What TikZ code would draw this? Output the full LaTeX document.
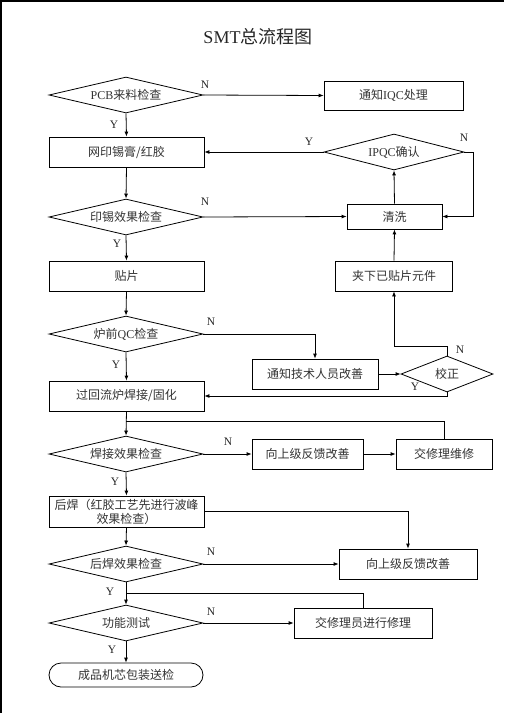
\documentclass[tikz,border=0pt]{standalone}
\usepackage{fontspec}
\setmainfont{Liberation Serif}
\newfontfamily\cjk{Noto Sans CJK SC}
\usetikzlibrary{shapes.geometric,arrows.meta}
\tikzset{
  base/.style={draw=black, line width=0.8pt, text=black!80, font=\fontsize{12}{14}\selectfont, inner sep=1pt, align=center},
  boxnode/.style={base, rectangle, minimum width=#1},
  boxnode/.default=155pt,
  dia/.style={base, diamond, aspect=4.3, minimum width=#1, minimum height=36pt, inner sep=0pt},
  dia/.default=154pt,
  conn/.style={line width=0.8pt, -{Latex[length=5pt,width=4pt]}},
  plain/.style={line width=0.8pt},
  yn/.style={font=\fontsize{11.5}{13}\selectfont, text=black!85, inner sep=0pt}
}
\begin{document}
\begin{tikzpicture}[x=1pt,y=-1pt]
\useasboundingbox (0,0) rectangle (504,713);
\fill[black] (0,0) rectangle (504,1.5);
\fill[black] (0,0) rectangle (2,713);
\node[font=\fontsize{18}{20}\selectfont, text=black!85] (title) at (258,37) {SMT\cjk 总流程图};

\node[dia] (d1) at (126,95) {PCB{\cjk 来料检查}};
\node[boxnode=139pt, minimum height=29pt] (b1) at (393.5,95.5) {\cjk 通知{\rmfamily IQC}处理};
\node[boxnode, minimum height=30pt] (b2) at (126.5,152) {\cjk 网印锡膏/红胶};
\node[dia=140pt] (d2) at (394,152) {IPQC{\cjk 确认}};
\node[dia] (d3) at (126,217) {\cjk 印锡效果检查};
\node[boxnode=95pt, minimum height=25pt] (b3) at (394.5,216.5) {\cjk 清洗};
\node[boxnode, minimum height=30pt] (b4) at (126.5,276) {\cjk 贴片};
\node[boxnode=117pt, minimum height=30pt] (b5) at (394,276) {\cjk 夹下已贴片元件};
\node[dia] (d4) at (126,334) {{\cjk 炉前}QC{\cjk 检查}};
\node[boxnode=126pt, minimum height=30pt] (b6) at (315,374) {\cjk 通知技术人员改善};
\node[dia=92pt] (d5) at (447,374) {\cjk 校正};
\node[boxnode, minimum height=30pt] (b7) at (126.5,396) {\cjk 过回流炉焊接/固化};
\node[dia] (d6) at (126,454) {\cjk 焊接效果检查};
\node[boxnode=111pt, minimum height=30pt] (b8) at (307.5,454) {\cjk 向上级反馈改善};
\node[boxnode=96pt, minimum height=30pt] (b9) at (444,454) {\cjk 交修理维修};
\node[boxnode, minimum height=31pt, text width=152pt, inner sep=0pt, font=\fontsize{12}{14}\selectfont] (b10) at (126.5,511.5) {\cjk 后焊（红胶工艺先进行波峰\\效果检查）};
\node[dia] (d7) at (126,564) {\cjk 后焊效果检查};
\node[boxnode=138pt, minimum height=30pt] (b11) at (408,564) {\cjk 向上级反馈改善};
\node[dia] (d8) at (126,623) {\cjk 功能测试};
\node[boxnode=138pt, minimum height=30pt] (b12) at (363,623) {\cjk 交修理员进行修理};
\node[base, rectangle, rounded corners=12pt, minimum width=154pt, minimum height=24pt] (t1) at (126,675) {\cjk 成品机芯包装送检};

\coordinate (j1) at (126,421);
\coordinate (j2) at (126,593);

% connectors
\draw[conn] (d1.south) -- (b2.north);
\draw[conn] (d1.east) -- (b1.west);
\draw[conn] (d2.west) -- (b2.east);
\draw[conn] (d2.east) -- ++(9,0) |- (b3.east);
\draw[conn] (b3.north) -- (d2.south);
\draw[conn] (b2.south) -- (d3.north);
\draw[conn] (d3.east) -- (b3.west);
\draw[conn] (d3.south) -- (b4.north);
\draw[conn] (b5.north) -- (b3.south);
\draw[conn] (b4.south) -- (d4.north);
\draw[conn] (d4.east) -| (b6.north);
\draw[conn] (b6.east) -- (d5.west);
\draw[conn] (d5.north) -- ++(0,-9) -| (b5.south);
\draw[conn] (d5.south) |- (b7.east);
\draw[conn] (d4.south) -- (b7.north);
\draw[conn] (b7.south) -- (d6.north);
\draw[plain] (b9.north) |- (j1);
\draw[conn] (d6.east) -- (b8.west);
\draw[conn] (b8.east) -- (b9.west);
\draw[conn] (d6.south) -- (b10.north);
\draw[conn] (b10.east) -| (b11.north);
\draw[conn] (b10.south) -- (d7.north);
\draw[conn] (d7.east) -- (b11.west);
\draw[conn] (d7.south) -- (d8.north);
\draw[plain] (b12.north) |- (j2);
\draw[conn] (d8.east) -- (b12.west);
\draw[conn] (d8.south) -- (t1.north);

% labels
\node[yn] (l1) at (114,125) {Y};
\node[yn] (l2) at (205,85) {N};
\node[yn] (l3) at (309,142) {Y};
\node[yn] (l4) at (464,138) {N};
\node[yn] (l5) at (205,202) {N};
\node[yn] (l6) at (117,244) {Y};
\node[yn] (l7) at (211,322) {N};
\node[yn] (l8) at (116,365) {Y};
\node[yn] (l9) at (460,350) {N};
\node[yn] (l10) at (415,387) {Y};
\node[yn] (l11) at (228,442) {N};
\node[yn] (l12) at (115,482) {Y};
\node[yn] (l13) at (211,552) {N};
\node[yn] (l14) at (110,592) {Y};
\node[yn] (l15) at (211,612) {N};
\node[yn] (l16) at (112,650) {Y};
\end{tikzpicture}
\end{document}
